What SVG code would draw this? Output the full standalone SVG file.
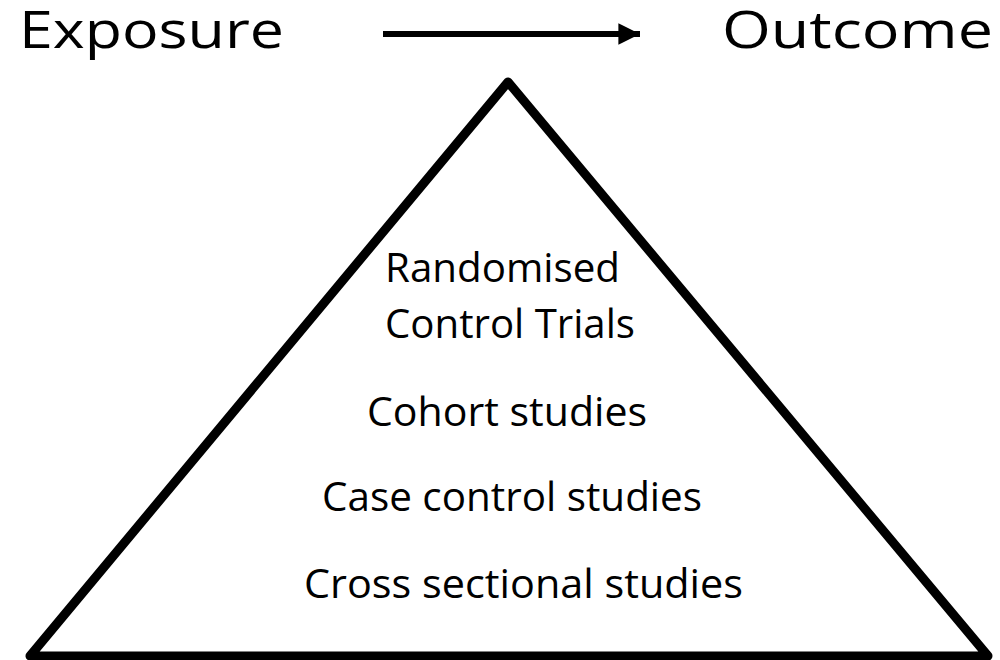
<svg xmlns="http://www.w3.org/2000/svg" width="1000" height="660" viewBox="0 0 1000 660">
  <style>
    .title { font-family: "Open Sans", "Noto Sans", "Liberation Sans", sans-serif; font-size: 52px; fill: #000; }
    .level { font-family: "Open Sans", "Noto Sans", "Liberation Sans", sans-serif; font-size: 40px; fill: #000; }
    .edge { stroke: #000; stroke-width: 6; fill: none; }
    .pyramid { stroke: #000; stroke-width: 9; fill: #fff; stroke-linejoin: round; }
  </style>
  <defs>
    <marker id="head" viewBox="0 0 10 10" refX="10" refY="5" markerWidth="3.6" markerHeight="3.6" markerUnits="strokeWidth" orient="auto">
      <path d="M0,0 L10,5 L0,10 Z" fill="#000"/>
    </marker>
  </defs>
  <rect width="1000" height="660" fill="#fff"/>

  <!-- causal direction: exposure to outcome -->
  <g id="connectors">
    <line class="edge" x1="383" y1="34" x2="640" y2="34" marker-end="url(#head)"/>
  </g>

  <g id="exposure">
    <text class="title" x="19" y="48" textLength="265" lengthAdjust="spacingAndGlyphs">Exposure</text>
  </g>
  <g id="outcome">
    <text class="title" x="722" y="48" textLength="271" lengthAdjust="spacingAndGlyphs">Outcome</text>
  </g>

  <!-- hierarchy of study designs -->
  <g id="pyramid">
    <polygon class="pyramid" points="508,82 30,656 988,656"/>
  </g>
  <g id="rct">
    <text class="level" x="385" y="282" textLength="235" lengthAdjust="spacingAndGlyphs">Randomised</text>
    <text class="level" x="385" y="338" textLength="250" lengthAdjust="spacingAndGlyphs">Control Trials</text>
  </g>
  <g id="cohort">
    <text class="level" x="367" y="426" textLength="280" lengthAdjust="spacingAndGlyphs">Cohort studies</text>
  </g>
  <g id="case-control">
    <text class="level" x="322" y="511" textLength="380" lengthAdjust="spacingAndGlyphs">Case control studies</text>
  </g>
  <g id="cross-sectional">
    <text class="level" x="304" y="598" textLength="439" lengthAdjust="spacingAndGlyphs">Cross sectional studies</text>
  </g>
</svg>
